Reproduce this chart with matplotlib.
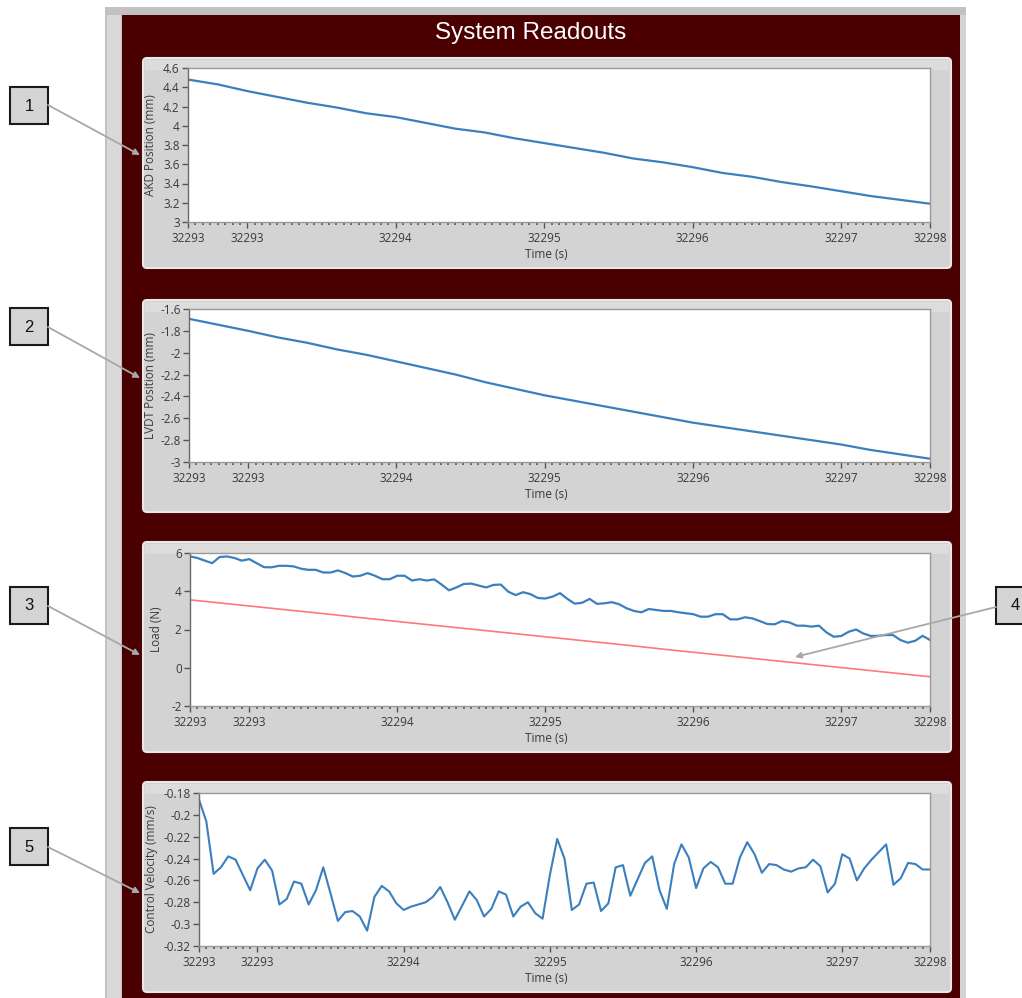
import matplotlib.pyplot as plt
import numpy as np
from matplotlib.patches import Rectangle, FancyBboxPatch
from matplotlib.ticker import FixedLocator, MultipleLocator, FuncFormatter

plt.rcParams['font.family'] = ['Open Sans', 'DejaVu Sans']

W, H = 1022, 998

# time axis (s)
t_start, t_end = 32292.6, 32297.6
t_fast = np.linspace(t_start, t_end, 101)   # 0.05 s samples
t_slow = np.linspace(t_start, t_end, 26)    # 0.2 s samples
time_ticks = [t_start, 32293, 32294, 32295, 32296, 32297, t_end]

# 1: AKD position (mm)
akd_pos = [4.48, 4.43, 4.36, 4.30, 4.24, 4.19, 4.13, 4.09, 4.03, 3.97,
           3.93, 3.87, 3.82, 3.77, 3.72, 3.66, 3.62, 3.57, 3.51, 3.47,
           3.415, 3.37, 3.32, 3.27, 3.23, 3.19]

# 2: LVDT position (mm)
lvdt_pos = [-1.69, -1.745, -1.80, -1.86, -1.91, -1.97, -2.02, -2.08, -2.14, -2.20,
            -2.27, -2.33, -2.39, -2.44, -2.49, -2.54, -2.59, -2.64, -2.68, -2.72,
            -2.76, -2.80, -2.84, -2.89, -2.93, -2.97]

# 3: load (N), measured and target
load_meas = [5.82, 5.74, 5.60, 5.47, 5.79, 5.82, 5.74, 5.60, 5.68, 5.47,
             5.26, 5.25, 5.33, 5.33, 5.30, 5.18, 5.12, 5.12, 4.98, 4.98,
             5.09, 4.95, 4.77, 4.81, 4.95, 4.81, 4.63, 4.63, 4.81, 4.81,
             4.56, 4.63, 4.56, 4.62, 4.35, 4.05, 4.20, 4.38, 4.40, 4.30,
             4.20, 4.33, 4.35, 3.98, 3.80, 3.95, 3.85, 3.65, 3.62, 3.72,
             3.90, 3.60, 3.35, 3.40, 3.60, 3.34, 3.37, 3.43, 3.32, 3.11,
             2.97, 2.90, 3.07, 3.02, 2.97, 2.97, 2.90, 2.85, 2.80, 2.67,
             2.67, 2.80, 2.80, 2.53, 2.53, 2.64, 2.58, 2.44, 2.29, 2.27,
             2.44, 2.37, 2.20, 2.20, 2.15, 2.20, 1.85, 1.62, 1.66, 1.88,
             2.00, 1.79, 1.66, 1.67, 1.71, 1.71, 1.45, 1.31, 1.41, 1.67,
             1.45]
load_target = [3.55, 3.39, 3.23, 3.07, 2.91, 2.75, 2.58, 2.42, 2.26, 2.10,
               1.94, 1.78, 1.62, 1.46, 1.30, 1.14, 0.97, 0.81, 0.65, 0.49,
               0.33, 0.17, 0.01, -0.15, -0.31, -0.47]

# 5: control velocity (mm/s)
ctrl_vel = [-0.186, -0.206, -0.254, -0.248, -0.238, -0.241, -0.255, -0.269, -0.249, -0.241,
            -0.251, -0.282, -0.277, -0.261, -0.263, -0.282, -0.269, -0.248, -0.272, -0.297,
            -0.289, -0.288, -0.293, -0.306, -0.275, -0.265, -0.270, -0.281, -0.287, -0.284,
            -0.282, -0.280, -0.275, -0.266, -0.280, -0.296, -0.283, -0.270, -0.278, -0.293,
            -0.286, -0.270, -0.273, -0.293, -0.284, -0.280, -0.290, -0.295, -0.255, -0.222,
            -0.240, -0.287, -0.282, -0.263, -0.262, -0.288, -0.281, -0.248, -0.246, -0.274,
            -0.259, -0.244, -0.238, -0.269, -0.286, -0.245, -0.227, -0.239, -0.267, -0.249,
            -0.243, -0.248, -0.263, -0.263, -0.239, -0.225, -0.236, -0.253, -0.245, -0.246,
            -0.250, -0.252, -0.249, -0.248, -0.241, -0.247, -0.271, -0.263, -0.236, -0.240,
            -0.260, -0.249, -0.241, -0.234, -0.227, -0.264, -0.258, -0.244, -0.245, -0.250,
            -0.250]

BLUE = '#3b7fbf'
RED = '#ff7878'
TXT = '#3a3a3a'

fig = plt.figure(figsize=(W / 100, H / 100), dpi=100)
fig.patch.set_facecolor('white')


def frac(x0, y0, x1, y1):
    return [x0 / W, 1 - y1 / H, (x1 - x0) / W, (y1 - y0) / H]


# front panel background
bg = fig.add_axes([0, 0, 1, 1], zorder=0)
bg.set_xlim(0, W)
bg.set_ylim(H, 0)
bg.axis('off')
bg.add_patch(Rectangle((105, 7), 861, 991, fc='#c2c2c2', ec='none'))
bg.add_patch(Rectangle((107, 15), 14, 983, fc='#d9d9d9', ec='none'))
bg.add_patch(Rectangle((122, 15), 838, 983, fc='#4a0000', ec='none'))
bg.add_patch(Rectangle((960, 15), 6, 983, fc='#d4d4d4', ec='none'))
bg.text(531, 33, 'System Readouts', color='white', fontsize=17.5,
        family='Liberation Sans', ha='center', va='center')

panels = [
    # panel box, plot box, ylabel, label x
    dict(panel=(143, 58, 951, 268), box=(188, 68, 930, 222), ylabel='AKD Position (mm)', lx=150,
         ylim=(3, 4.6), yticks=np.arange(3, 4.61, 0.2)),
    dict(panel=(143, 300, 951, 512), box=(189, 309, 930, 462), ylabel='LVDT Position (mm)', lx=150,
         ylim=(-3, -1.6), yticks=np.arange(-3, -1.59, 0.2)),
    dict(panel=(143, 542, 951, 752), box=(190, 553, 930, 706), ylabel='Load (N)', lx=157,
         ylim=(-2, 6), yticks=np.arange(-2, 6.1, 2)),
    dict(panel=(143, 782, 951, 992), box=(199, 793, 930, 946), ylabel='Control Velocity (mm/s)', lx=151,
         ylim=(-0.32, -0.18), yticks=np.arange(-0.32, -0.179, 0.02)),
]

axes = []
for p in panels:
    x0, y0, x1, y1 = p['panel']
    bg.add_patch(FancyBboxPatch((x0, y0), x1 - x0, y1 - y0,
                                boxstyle='round,pad=0,rounding_size=4',
                                fc='#d3d3d3', ec='#e8e8e8', lw=1.5))
    bg.add_patch(Rectangle((x0 + 2, y0 + 2), x1 - x0 - 4, 10, fc='#dcdcdc', ec='none'))
    bg.text(p['lx'], (p['box'][1] + p['box'][3]) / 2, p['ylabel'], rotation=90,
            ha='center', va='center', fontsize=8.5, color=TXT)
    bg.text(546, p['box'][3] + 32, 'Time (s)', ha='center', va='center',
            fontsize=8.5, color=TXT)

    ax = fig.add_axes(frac(*p['box']), zorder=2)
    ax.set_facecolor('white')
    ax.set_xlim(t_start, t_end)
    ax.set_ylim(*p['ylim'])
    ax.set_yticks(p['yticks'])
    ax.yaxis.set_major_formatter(FuncFormatter(lambda v, pos: f"{round(v, 4):g}"))
    ax.xaxis.set_major_locator(FixedLocator(time_ticks))
    ax.xaxis.set_minor_locator(MultipleLocator(0.05))
    ax.xaxis.set_major_formatter(FuncFormatter(lambda v, pos: f"{v:.0f}"))
    ax.tick_params(axis='both', which='major', labelsize=8.5, labelcolor=TXT,
                   color='#555555', length=4, width=1, pad=2)
    ax.tick_params(axis='x', which='minor', color='#555555', length=2, width=1.2)
    ax.tick_params(axis='x', which='major', pad=3)
    for side, sp in ax.spines.items():
        sp.set_color('#9a9a9a')
        sp.set_linewidth(1)
    ax.spines['left'].set_color('#6a6a6a')
    axes.append(ax)

ax1, ax2, ax3, ax4 = axes
ax1.plot(t_slow, akd_pos, color=BLUE, lw=1.6)
ax2.plot(t_slow, lvdt_pos, color=BLUE, lw=1.6)
ax3.plot(t_slow, load_target, color=RED, lw=1.2)
ax3.plot(t_fast, load_meas, color=BLUE, lw=1.6)
ax4.plot(t_fast, ctrl_vel, color=BLUE, lw=1.5)

# numbered callouts
ov = fig.add_axes([0, 0, 1, 1], zorder=10)
ov.set_xlim(0, W)
ov.set_ylim(H, 0)
ov.axis('off')
ov.patch.set_alpha(0)

callouts = [
    ('1', (10, 87), (48, 105), (140, 155)),
    ('2', (10, 308), (48, 327), (140, 378)),
    ('3', (10, 587), (48, 606), (140, 655)),
    ('4', (996, 587), (996, 607), (795, 657)),
    ('5', (10, 828), (48, 847), (140, 893)),
]
for num, (bx, by), start, end in callouts:
    ov.add_patch(Rectangle((bx, by), 38, 37, fc='#d4d4d4', ec='#1a1a1a', lw=1.5,
                           clip_on=False))
    ov.text(bx + 19, by + 19, num, ha='center', va='center', fontsize=12,
            family='Liberation Sans', color='#111111')
    ov.annotate('', xy=end, xytext=start,
                arrowprops=dict(arrowstyle='-|>', color='#a8a8a8', lw=1.3,
                                mutation_scale=9, shrinkA=0, shrinkB=0))

fig.savefig('out.png', dpi=100)
